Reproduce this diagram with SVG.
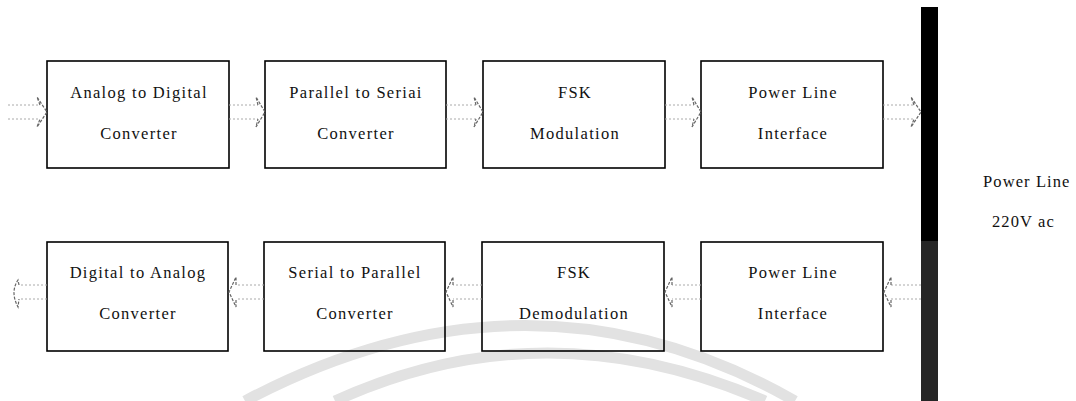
<svg xmlns="http://www.w3.org/2000/svg" width="1076" height="401" viewBox="0 0 1076 401">
  <style>
    .box { fill: none; stroke: #000; stroke-width: 1.6; }
    .lbl { font-family: "Liberation Serif", "Times New Roman", serif; font-size: 16.5px; letter-spacing: 1.3px; fill: #111; text-anchor: middle; }
    .side { font-family: "Liberation Serif", "Times New Roman", serif; font-size: 16.5px; letter-spacing: 1.1px; fill: #111; }
    .shaft { fill: none; stroke: #aaa; stroke-width: 1; stroke-dasharray: 2 2; }
    .head { fill: none; stroke: #666; stroke-width: 1.2; stroke-dasharray: 3 1.5; }
    .wm { fill: none; stroke: #e2e2e2; stroke-width: 11; }
  </style>

  <g id="watermark">
    <path class="wm" d="M 245 401 Q 530 250 795 401"/>
    <path class="wm" d="M 335 401 Q 545 305 765 401"/>
  </g>

  <g id="power-line-bar">
    <rect x="921" y="7" width="17" height="235" fill="#000"/>
    <rect x="921" y="241" width="17" height="160" fill="#262626"/>
  </g>
  <g id="power-line-label">
    <text class="side" x="983" y="187">Power Line</text>
    <text class="side" x="992" y="227">220V  ac</text>
  </g>

  <g id="adc">
    <rect class="box" x="47" y="61" width="182" height="107"/>
    <text class="lbl" x="139" y="98">Analog to Digital</text>
    <text class="lbl" x="139" y="139">Converter</text>
  </g>
  <g id="p2s">
    <rect class="box" x="265" y="61" width="181" height="107"/>
    <text class="lbl" x="356" y="98">Parallel to Seriai</text>
    <text class="lbl" x="356" y="139">Converter</text>
  </g>
  <g id="fskmod">
    <rect class="box" x="483" y="61" width="182" height="107"/>
    <text class="lbl" x="575" y="98">FSK</text>
    <text class="lbl" x="575" y="139">Modulation</text>
  </g>
  <g id="pli-tx">
    <rect class="box" x="701" y="61" width="182" height="107"/>
    <text class="lbl" x="793" y="98">Power Line</text>
    <text class="lbl" x="793" y="139">Interface</text>
  </g>

  <g id="dac">
    <rect class="box" x="47" y="242" width="181" height="109"/>
    <text class="lbl" x="138" y="278">Digital to Analog</text>
    <text class="lbl" x="138" y="319">Converter</text>
  </g>
  <g id="s2p">
    <rect class="box" x="264" y="242" width="181" height="109"/>
    <text class="lbl" x="355" y="278">Serial to Parallel</text>
    <text class="lbl" x="355" y="319">Converter</text>
  </g>
  <g id="fskdemod">
    <rect class="box" x="482" y="242" width="182" height="109"/>
    <text class="lbl" x="574" y="278">FSK</text>
    <text class="lbl" x="574" y="319">Demodulation</text>
  </g>
  <g id="pli-rx">
    <rect class="box" x="701" y="242" width="182" height="109"/>
    <text class="lbl" x="793" y="278">Power Line</text>
    <text class="lbl" x="793" y="319">Interface</text>
  </g>

  <g id="connectors">
    <!-- top row, pointing right -->
    <path class="shaft" d="M 8 105 L 40 105 M 8 119 L 40 119"/>
    <path class="head" d="M 40 105 L 37 97 L 47 112 L 37 127 L 40 119"/>
    <path class="shaft" d="M 229 105 L 258 105 M 229 119 L 258 119"/>
    <path class="head" d="M 258 105 L 256 97 L 265 112 L 256 127 L 258 119"/>
    <path class="shaft" d="M 446 105 L 476 105 M 446 119 L 476 119"/>
    <path class="head" d="M 476 105 L 474 97 L 483 112 L 474 127 L 476 119"/>
    <path class="shaft" d="M 665 105 L 694 105 M 665 119 L 694 119"/>
    <path class="head" d="M 694 105 L 692 97 L 701 112 L 692 127 L 694 119"/>
    <path class="shaft" d="M 883 105 L 914 105 M 883 119 L 914 119"/>
    <path class="head" d="M 914 105 L 911 97 L 921 112 L 911 127 L 914 119"/>
    <!-- bottom row, pointing left -->
    <path class="shaft" d="M 921 285 L 891 285 M 921 299 L 891 299"/>
    <path class="head" d="M 891 285 L 891 277 L 884 292 L 891 307 L 891 299"/>
    <path class="shaft" d="M 701 285 L 672 285 M 701 299 L 672 299"/>
    <path class="head" d="M 672 285 L 672 277 L 665 292 L 672 307 L 672 299"/>
    <path class="shaft" d="M 482 285 L 453 285 M 482 299 L 453 299"/>
    <path class="head" d="M 453 285 L 453 277 L 446 292 L 453 307 L 453 299"/>
    <path class="shaft" d="M 264 285 L 236 285 M 264 299 L 236 299"/>
    <path class="head" d="M 236 285 L 236 277 L 229 292 L 236 307 L 236 299"/>
    <path class="shaft" d="M 47 285 L 19 285 M 47 299 L 19 299"/>
    <path class="head" d="M 19 285 L 18 280 Q 10 292 18 307 L 19 299"/>
  </g>
</svg>
